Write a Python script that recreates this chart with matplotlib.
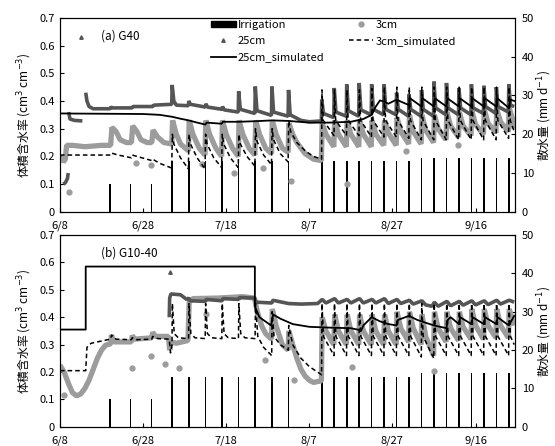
import numpy as np
import matplotlib
matplotlib.use("Agg")
import matplotlib.pyplot as plt
from matplotlib.lines import Line2D
from matplotlib.patches import Rectangle

plt.rcParams['font.family'] = ['Noto Sans CJK JP', 'DejaVu Sans']
nan = np.nan

# days counted from 6/8
tick_days = [0, 20, 40, 60, 80, 100]
tick_labels = ['6/8', '6/28', '7/18', '8/7', '8/27', '9/16']

# irrigation (mm/d), same schedule in both plots
irr_days = [12, 17, 22, 27, 31, 35, 39, 43, 47, 51, 55, 63, 66, 69, 72, 75, 78, 81, 84,
            87, 90, 93, 96, 99, 102, 105, 108]
irr_mm = [7.2, 7.2, 7.2, 13, 13, 13, 13, 13, 13, 13, 13, 13, 13, 13, 13, 13, 13, 13, 13,
          14, 14, 14, 14, 14, 14, 14, 14]

# ---- (a) G40 ----
a_25cm = [(0.8, 0.10), (1.3, 0.105), (1.8, 0.12), (2.0, 0.14), (nan, nan),
          (2.1, 0.36), (2.4, 0.335), (3.5, 0.33), (5.4, 0.328), (nan, nan),
          (6.2, 0.43), (6.5, 0.40), (7.0, 0.38), (8.0, 0.372), (12.0, 0.372), (12.3, 0.378),
          (12.6, 0.375), (17.3, 0.375), (17.6, 0.38), (22.3, 0.38), (22.6, 0.385), (26.9, 0.388),
          (27.0, 0.458), (27.4, 0.40), (28.0, 0.385), (30.9, 0.383), (31.0, 0.40), (31.4, 0.388),
          (35.0, 0.378), (35.1, 0.39), (35.5, 0.378), (39.0, 0.37), (39.1, 0.38), (39.5, 0.368),
          (42.9, 0.36), (43.0, 0.435), (43.4, 0.37), (46.9, 0.355), (47.0, 0.452), (47.4, 0.365),
          (50.9, 0.348), (51.0, 0.452), (51.4, 0.36), (54.9, 0.345), (55.0, 0.44), (55.4, 0.35),
          (58.0, 0.33), (60.0, 0.325), (62.9, 0.328), (63.0, 0.405), (63.4, 0.355), (65.9, 0.34),
          (66.0, 0.447), (66.4, 0.36), (68.9, 0.345), (69.0, 0.46), (69.4, 0.365), (71.9, 0.345),
          (72.0, 0.465), (72.4, 0.368), (74.9, 0.35), (75.0, 0.46), (75.4, 0.37), (77.9, 0.35),
          (78.0, 0.46), (78.4, 0.37), (80.9, 0.35), (81.0, 0.43), (81.4, 0.37), (83.9, 0.345),
          (84.0, 0.424), (84.4, 0.37), (86.9, 0.345), (87.0, 0.44), (87.4, 0.37), (89.9, 0.345),
          (90.0, 0.47), (90.4, 0.375), (92.9, 0.35), (93.0, 0.465), (93.4, 0.375), (95.9, 0.35),
          (96.0, 0.447), (96.4, 0.375), (98.9, 0.35), (99.0, 0.46), (99.4, 0.375), (101.9, 0.355),
          (102.0, 0.455), (102.4, 0.38), (104.9, 0.355), (105.0, 0.45), (105.4, 0.38),
          (107.9, 0.36), (108.0, 0.46), (108.4, 0.385), (109.3, 0.38)]
a_25cm_out = [(5.0, 0.63)]

a_3cm = [(0.3, 0.20), (0.8, 0.18), (1.3, 0.19), (1.6, 0.24), (3.0, 0.24), (6.0, 0.235),
         (10.0, 0.24), (12.2, 0.24), (12.5, 0.305), (13.5, 0.29), (14.5, 0.26), (16.0, 0.25),
         (17.2, 0.25), (17.5, 0.31), (18.5, 0.29), (19.5, 0.26), (21.0, 0.25), (22.1, 0.25),
         (22.4, 0.295), (23.5, 0.27), (25.0, 0.25), (26.9, 0.245), (27.1, 0.33), (28.0, 0.28),
         (29.0, 0.245), (30.9, 0.22), (31.1, 0.33), (32.0, 0.28), (33.5, 0.23), (34.9, 0.205),
         (35.1, 0.33), (36.0, 0.28), (37.5, 0.23), (38.9, 0.20), (39.1, 0.33), (40.0, 0.28),
         (41.5, 0.23), (42.9, 0.20), (43.1, 0.33), (44.0, 0.28), (45.5, 0.23), (46.9, 0.205),
         (47.1, 0.33), (48.0, 0.28), (49.5, 0.23), (50.9, 0.21), (51.1, 0.33), (52.0, 0.28),
         (53.5, 0.23), (54.9, 0.215), (55.1, 0.32), (56.0, 0.28), (57.0, 0.25), (58.0, 0.23),
         (59.0, 0.21), (60.0, 0.20), (61.0, 0.19), (62.9, 0.185), (63.1, 0.32), (64.0, 0.28),
         (65.9, 0.235), (66.1, 0.33), (67.0, 0.28), (68.9, 0.235), (69.1, 0.33), (70.0, 0.28),
         (71.9, 0.235), (72.1, 0.33), (73.0, 0.28), (74.9, 0.235), (75.1, 0.33), (76.0, 0.28),
         (77.9, 0.24), (78.1, 0.33), (79.0, 0.285), (80.9, 0.24), (81.1, 0.34), (82.0, 0.29),
         (83.9, 0.245), (84.1, 0.35), (85.0, 0.29), (86.9, 0.245), (87.1, 0.35), (88.0, 0.295),
         (89.9, 0.25), (90.1, 0.35), (91.0, 0.30), (92.9, 0.26), (93.1, 0.36), (94.0, 0.31),
         (95.9, 0.27), (96.1, 0.36), (97.0, 0.31), (98.9, 0.275), (99.1, 0.365), (100.0, 0.315),
         (101.9, 0.28), (102.1, 0.37), (103.0, 0.32), (104.9, 0.285), (105.1, 0.37), (106.0, 0.325),
         (107.9, 0.29), (108.1, 0.375), (109.0, 0.33), (109.3, 0.30)]
a_3cm_out = [(2.2, 0.073), (18.2, 0.178), (22.0, 0.17), (34.3, 0.172), (42.0, 0.14), (48.8, 0.16),
             (55.6, 0.11), (69.0, 0.10), (83.3, 0.22), (95.7, 0.24)]

a_25cm_sim = [(0, 0.355), (20, 0.353), (24, 0.35), (27, 0.343), (29, 0.336), (31, 0.33), (33, 0.322),
              (35, 0.315), (35.3, 0.322), (38.9, 0.318), (39.2, 0.325), (43, 0.325), (47, 0.327),
              (51, 0.33), (55, 0.328), (60, 0.322), (65, 0.322), (70, 0.325), (73, 0.335), (75, 0.35),
              (76, 0.38), (77, 0.402), (78, 0.398), (79, 0.39), (81, 0.405), (82, 0.398), (84, 0.385),
              (84.2, 0.41), (87, 0.38), (87.2, 0.41), (90, 0.38), (90.2, 0.41), (93, 0.38), (93.2, 0.41),
              (96, 0.38), (96.2, 0.41), (99, 0.38), (99.2, 0.41), (102, 0.38), (102.2, 0.41),
              (105, 0.38), (105.2, 0.41), (108, 0.375), (108.4, 0.405), (109.3, 0.40)]

a_3cm_sim = [(0, 0.205), (12.2, 0.205), (12.4, 0.212), (14, 0.205), (17.2, 0.195), (17.4, 0.205),
             (19, 0.198), (22.1, 0.185), (22.3, 0.19), (24, 0.175), (26.9, 0.158), (27.05, 0.28),
             (27.4, 0.245), (29, 0.195), (30.9, 0.155), (31.05, 0.28), (31.4, 0.245), (33, 0.195),
             (34.9, 0.155), (35.05, 0.28), (35.4, 0.245), (37, 0.195), (38.9, 0.16), (39.05, 0.28),
             (39.4, 0.245), (41, 0.195), (42.9, 0.16), (43.05, 0.28), (43.4, 0.245), (45, 0.2),
             (46.9, 0.165), (47.05, 0.3), (47.4, 0.255), (49, 0.205), (50.9, 0.17), (51.05, 0.3),
             (51.4, 0.26), (53, 0.21), (54.9, 0.18), (55.05, 0.33), (55.5, 0.29), (57, 0.25),
             (59, 0.22), (61, 0.2), (62.95, 0.19), (63.05, 0.44), (63.35, 0.33), (65.95, 0.275),
             (66.05, 0.44), (66.35, 0.33), (68.95, 0.275), (69.05, 0.44), (69.35, 0.33),
             (71.95, 0.275), (72.05, 0.44), (72.35, 0.33), (74.95, 0.27), (75.05, 0.445),
             (75.35, 0.33), (77.95, 0.27), (78.05, 0.45), (78.35, 0.33), (80.95, 0.27), (81.05, 0.45),
             (81.35, 0.33), (83.95, 0.265), (84.05, 0.45), (84.35, 0.33), (86.95, 0.26),
             (87.05, 0.45), (87.35, 0.33), (89.95, 0.26), (90.05, 0.45), (90.35, 0.33),
             (92.95, 0.26), (93.05, 0.45), (93.35, 0.33), (95.95, 0.26), (96.05, 0.45), (96.35, 0.33),
             (98.95, 0.26), (99.05, 0.45), (99.35, 0.33), (101.95, 0.26), (102.05, 0.45),
             (102.35, 0.33), (104.95, 0.26), (105.05, 0.45), (105.35, 0.33), (107.95, 0.265),
             (108.05, 0.45), (108.35, 0.33), (109.3, 0.29)]

# ---- (b) G10-40 ----
b_25cm = [(26.3, 0.40), (26.4, 0.47), (26.7, 0.485), (29, 0.482), (30.5, 0.465), (31, 0.47),
          (31.3, 0.46), (35, 0.458), (35.2, 0.465), (39, 0.46), (39.2, 0.468), (43, 0.465),
          (43.2, 0.472), (46.8, 0.47), (47.2, 0.455), (51, 0.452), (51.2, 0.462), (55, 0.45),
          (58, 0.448), (62, 0.45), (63.1, 0.465), (64, 0.452), (66.1, 0.468), (67, 0.452),
          (69.1, 0.465), (70, 0.452), (72.1, 0.468), (73, 0.452), (75.1, 0.465), (76, 0.452),
          (78.1, 0.468), (79, 0.45), (81.1, 0.465), (82, 0.45), (84.1, 0.462), (85, 0.448),
          (87.1, 0.46), (88, 0.445), (89.5, 0.44), (90.1, 0.455), (91, 0.44), (93.1, 0.458),
          (94, 0.442), (96.1, 0.458), (97, 0.444), (99.1, 0.46), (100, 0.445), (102.1, 0.46),
          (103, 0.446), (105.1, 0.462), (106, 0.448), (108.1, 0.462), (109.3, 0.455)]
b_25cm_out = [(26.5, 0.565)]

b_3cm = [(0, 0.225), (1, 0.2), (2, 0.16), (3, 0.125), (4, 0.113), (5, 0.12), (6, 0.14), (7, 0.17),
         (8, 0.21), (9, 0.25), (10, 0.28), (11, 0.298), (12.2, 0.303), (12.4, 0.335), (13, 0.31),
         (17.2, 0.31), (17.4, 0.333), (18, 0.32), (22.1, 0.325), (22.3, 0.345), (23, 0.33),
         (26.1, 0.33), (26.4, 0.28), (26.8, 0.31), (28, 0.305), (30.8, 0.315), (31.1, 0.455),
         (32, 0.468), (38, 0.47), (44, 0.475), (46.8, 0.47), (47.5, 0.42), (48.5, 0.37),
         (49.5, 0.34), (50.9, 0.32), (51.1, 0.43), (52, 0.37), (53.5, 0.3), (54.9, 0.28),
         (55.1, 0.35), (56, 0.3), (57, 0.25), (58, 0.21), (59, 0.185), (60, 0.17), (61, 0.162),
         (62.9, 0.168), (63.1, 0.40), (64, 0.35), (65.9, 0.30), (66.1, 0.41), (67, 0.35),
         (68.9, 0.30), (69.1, 0.41), (70, 0.35), (71.9, 0.30), (72.1, 0.41), (73, 0.35),
         (74.9, 0.30), (75.1, 0.41), (76, 0.35), (77.9, 0.30), (78.1, 0.41), (79, 0.35),
         (80.9, 0.30), (81.1, 0.42), (82, 0.36), (83.9, 0.31), (84.1, 0.42), (85, 0.36),
         (86.9, 0.30), (87.1, 0.41), (88, 0.33), (89.9, 0.26), (90.1, 0.42), (91, 0.36),
         (92.9, 0.31), (93.1, 0.42), (94, 0.36), (95.9, 0.315), (96.1, 0.42), (97, 0.365),
         (98.9, 0.32), (99.1, 0.43), (100, 0.37), (101.9, 0.32), (102.1, 0.43), (103, 0.37),
         (104.9, 0.325), (105.1, 0.43), (106, 0.37), (107.9, 0.325), (108.1, 0.43), (109.3, 0.37)]
b_3cm_out = [(1.0, 0.115), (17.4, 0.215), (21.8, 0.258), (25.2, 0.23), (28.7, 0.215), (35.1, 0.41),
             (49.4, 0.245), (56.4, 0.172), (70.3, 0.22), (90.1, 0.205)]

b_25cm_sim = [(0, 0.355), (6.2, 0.355), (6.2, 0.585), (46.9, 0.585), (46.9, 0.44), (48, 0.4),
              (50.8, 0.37), (51.3, 0.41), (53, 0.395), (56, 0.375), (60, 0.365), (65, 0.362),
              (70, 0.36), (72.5, 0.352), (73, 0.37), (75, 0.4), (77, 0.385), (79, 0.375), (81, 0.37),
              (81.3, 0.39), (84, 0.405), (86, 0.39), (90, 0.37), (93, 0.36), (93.3, 0.39), (94, 0.4),
              (96, 0.375), (96.3, 0.4), (99, 0.375), (99.3, 0.4), (102, 0.375), (102.3, 0.4),
              (105, 0.375), (105.3, 0.4), (108, 0.37), (109.3, 0.405)]

b_3cm_sim = [(0, 0.205), (6.2, 0.205), (6.5, 0.29), (7.5, 0.305), (9, 0.31), (11.5, 0.318),
             (12.2, 0.32), (12.4, 0.335), (13.5, 0.32), (17.2, 0.318), (17.4, 0.325), (18.5, 0.318),
             (22.1, 0.32), (22.3, 0.33), (23.5, 0.322), (26.3, 0.32), (26.6, 0.27), (26.95, 0.3),
             (27.05, 0.45), (27.5, 0.34), (28.5, 0.325), (30.95, 0.322), (31.05, 0.45), (31.5, 0.34),
             (32.5, 0.325), (34.95, 0.322), (35.05, 0.45), (35.5, 0.34), (36.5, 0.325),
             (38.95, 0.322), (39.05, 0.45), (39.5, 0.34), (40.5, 0.325), (42.95, 0.322),
             (43.05, 0.45), (43.5, 0.34), (44.5, 0.325), (46.95, 0.322), (47.05, 0.45), (47.6, 0.33),
             (49, 0.29), (50.95, 0.26), (51.05, 0.42), (51.5, 0.33), (53, 0.3), (54.95, 0.28),
             (55.05, 0.37), (56, 0.3), (58, 0.25), (60, 0.22), (62.95, 0.19), (63.05, 0.45),
             (63.4, 0.33), (65.95, 0.26), (66.05, 0.45), (66.4, 0.33), (68.95, 0.26), (69.05, 0.45),
             (69.4, 0.33), (71.95, 0.26), (72.05, 0.45), (72.4, 0.33), (74.95, 0.26), (75.05, 0.45),
             (75.4, 0.33), (77.95, 0.26), (78.05, 0.45), (78.4, 0.33), (80.95, 0.26), (81.05, 0.45),
             (81.4, 0.33), (83.95, 0.26), (84.05, 0.45), (84.4, 0.33), (86.95, 0.255),
             (87.05, 0.45), (87.4, 0.33), (89.95, 0.25), (90.05, 0.45), (90.4, 0.33), (92.95, 0.26),
             (93.05, 0.45), (93.4, 0.33), (95.95, 0.26), (96.05, 0.45), (96.4, 0.33), (98.95, 0.26),
             (99.05, 0.45), (99.4, 0.33), (101.95, 0.26), (102.05, 0.45), (102.4, 0.33),
             (104.95, 0.26), (105.05, 0.45), (105.4, 0.33), (107.95, 0.26), (108.05, 0.45),
             (108.4, 0.33), (109.3, 0.30)]

DARK = '#555555'
LIGHT = '#9c9c9c'
FS = 8


def xy(pairs):
    arr = np.array(pairs, dtype=float)
    return arr[:, 0], arr[:, 1]


def draw_panel(ax, title, m25, m25_out, m3, m3_out, s25, s3):
    ax2 = ax.twinx()
    ax.set_zorder(ax2.get_zorder() + 1)
    ax.patch.set_visible(False)

    ax2.bar(irr_days, irr_mm, width=0.38, color='black', zorder=1)
    ax2.set_ylim(0, 50)
    ax2.set_yticks([0, 10, 20, 30, 40, 50])
    ax2.tick_params(axis='y', direction='in', labelsize=FS, length=3, pad=5)
    ax2.set_ylabel('散水量 (mm d$^{-1}$)', fontsize=FS + 0.5, labelpad=1)

    x, y = xy(m3)
    ax.plot(x, y, color=LIGHT, lw=3.8, solid_joinstyle='bevel', solid_capstyle='butt', zorder=2)
    x, y = xy(m3_out)
    ax.plot(x, y, 'o', color=LIGHT, ms=3.5, zorder=2)
    x, y = xy(m25)
    ax.plot(x, y, color=DARK, lw=2.6, solid_joinstyle='bevel', solid_capstyle='butt', zorder=3)
    x, y = xy(m25_out)
    ax.plot(x, y, '^', color=DARK, ms=2.5, zorder=3)
    x, y = xy(s25)
    ax.plot(x, y, color='black', lw=1.3, zorder=4)
    x, y = xy(s3)
    ax.plot(x, y, color='black', lw=1.1, dashes=(3, 2), zorder=4)

    ax.set_xlim(0, 109.5)
    ax.set_ylim(0, 0.7)
    ax.set_yticks(np.arange(0, 0.71, 0.1))
    ax.set_yticklabels(['0', '0.1', '0.2', '0.3', '0.4', '0.5', '0.6', '0.7'])
    ax.set_xticks(tick_days)
    ax.set_xticklabels(tick_labels)
    ax.tick_params(direction='in', labelsize=FS, length=3)
    ax.tick_params(axis='x', pad=6)
    ax.set_ylabel('体積含水率 (cm$^3$ cm$^{-3}$)', fontsize=FS + 0.5, labelpad=4)
    ax.text(0.09, 0.905, title, transform=ax.transAxes, fontsize=FS + 0.5, va='center')
    return ax2


fig = plt.figure(figsize=(5.55, 4.46), dpi=100)
ax_a = fig.add_axes([0.108, 0.525, 0.82, 0.435])
ax_b = fig.add_axes([0.108, 0.043, 0.82, 0.430])

draw_panel(ax_a, '(a) G40', a_25cm, a_25cm_out, a_3cm, a_3cm_out, a_25cm_sim, a_3cm_sim)
draw_panel(ax_b, '(b) G10-40', b_25cm, b_25cm_out, b_3cm, b_3cm_out, b_25cm_sim, b_3cm_sim)

handles = [Rectangle((0, 0), 1, 1, color='black'),
           Line2D([], [], ls='none', marker='^', ms=2.5, color=DARK),
           Line2D([], [], color='black', lw=1.3),
           Line2D([], [], ls='none', marker='o', ms=3.5, color=LIGHT),
           Line2D([], [], color='black', lw=1.1, dashes=(3, 2))]
labels = ['Irrigation', '25cm', '25cm_simulated', '3cm', '3cm_simulated']
ax_a.legend(handles, labels, ncol=2, loc='upper left', bbox_to_anchor=(0.315, 1.03),
            frameon=False, fontsize=FS, handlelength=2.2, handleheight=0.45,
            handletextpad=0.2, labelspacing=0.55, columnspacing=2.2, borderpad=0.2)

fig.savefig('out.png', dpi=100)
